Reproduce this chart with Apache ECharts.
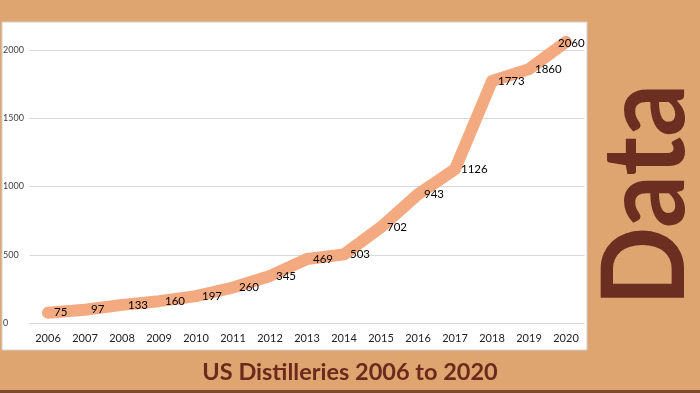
<!DOCTYPE html>
<html><head><meta charset="utf-8">
<script src="https://cdn.jsdelivr.net/npm/echarts@6/dist/echarts.min.js"></script>
<style>html,body{margin:0;padding:0;background:#dea570;}#c{width:700px;height:393px;}</style>
</head><body><div id="c"></div>
<script>
const years = ['2006','2007','2008','2009','2010','2011','2012','2013','2014','2015','2016','2017','2018','2019','2020'];
const distilleries = [75, 97, 133, 160, 197, 260, 345, 469, 503, 702, 943, 1126, 1773, 1860, 2060];
const yTicks = {min: 0, max: 2000, interval: 500};
const titleText = 'US Distilleries 2006 to 2020';
const sideText = 'Data';

const seriesData = distilleries.map((v, i) => i === distilleries.length - 1
  ? {value: v, label: {offset: [-14, 1]}}
  : v);

const chart = echarts.init(document.getElementById('c'), null, {renderer: 'canvas'});
chart.setOption({
  backgroundColor: '#dea570',
  animation: false,
  graphic: [
    {type: 'rect', z: -10, shape: {x: 2, y: 22, width: 585, height: 328}, style: {fill: '#ffffff', stroke: '#d0d0d0', lineWidth: 1}},
    {type: 'rect', z: -10, shape: {x: 0, y: 390, width: 700, height: 3}, style: {fill: '#7a4a2a'}},
    {type: 'text', x: 350, y: 372, style: {text: titleText, fill: '#6b2a1c', font: 'bold 23.5px Lato', align: 'center', verticalAlign: 'middle'}},
    {type: 'text', x: 647, y: 195, rotation: Math.PI / 2, scaleX: 0.91, style: {text: sideText, fill: '#6b2e20', font: 'bold 115px Lato', align: 'center', verticalAlign: 'middle'}}
  ],
  grid: {left: 29.5, right: 115.5, top: 50, bottom: 70},
  xAxis: {
    type: 'category', data: years, boundaryGap: true,
    axisLine: {show: false}, axisTick: {show: false},
    axisLabel: {color: '#222', fontSize: 11, fontFamily: 'Lato', margin: 10}
  },
  yAxis: {
    type: 'value', min: yTicks.min, max: yTicks.max, interval: yTicks.interval,
    axisLine: {show: false}, axisTick: {show: false},
    splitLine: {lineStyle: {color: '#d9d9d9', width: 1}},
    axisLabel: {color: '#404040', fontSize: 9, fontFamily: 'Lato', align: 'left', margin: 26.5, formatter: v => String(v)}
  },
  series: [{
    type: 'line', data: seriesData, clip: false,
    symbol: 'circle', symbolSize: 2, showSymbol: true,
    itemStyle: {color: 'rgba(0,0,0,0)', borderWidth: 0},
    lineStyle: {color: '#f4aa80', width: 12, cap: 'round', join: 'round'},
    label: {show: true, position: 'right', distance: 5, color: '#000', fontSize: 11.5, fontFamily: 'Lato'},
    z: 3
  }]
});
</script></body></html>
